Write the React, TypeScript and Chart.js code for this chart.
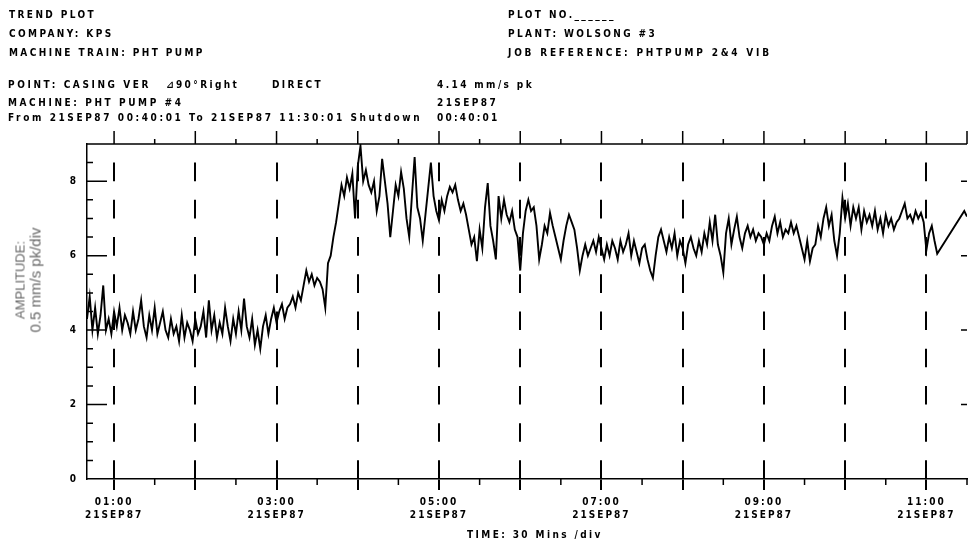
import React, { useEffect, useRef } from "react";
import { Chart, registerables } from "chart.js";

Chart.register(...registerables);

// ---- time axis (minutes after midnight) ----
const START_MIN = 40; // 00:40
const END_MIN = 690; // 11:30
const STEP_MIN = 2;
const hourGrid = [60, 120, 180, 240, 300, 360, 420, 480, 540, 600, 660];
const labelHours = [60, 180, 300, 420, 540, 660];
const timeLabels = ["01:00", "03:00", "05:00", "07:00", "09:00", "11:00"];
const dateLabel = "21SEP87";

// ---- amplitude axis (mm/s pk) ----
const Y_MIN = 0;
const Y_MAX = 9;
const yTickValues = [0, 2, 4, 6, 8];

// ---- amplitude trend, one reading every 2 minutes from 00:40 ----
const amp0040 = [4.3, 4.9, 4.0, 4.6, 3.9, 4.4, 5.2, 4.0, 4.3, 3.9, 4.5, 4.1, 4.6, 4.0, 4.4];
const amp0110 = [4.2, 3.9, 4.5, 4.0, 4.3, 4.8, 4.1, 3.8, 4.4, 4.0, 4.6, 3.9, 4.2, 4.5, 4.0];
const amp0140 = [3.8, 4.3, 3.9, 4.1, 3.7, 4.4, 3.8, 4.2, 4.0, 3.7, 4.3, 3.9, 4.1, 4.5, 3.8];
const amp0210 = [4.8, 4.0, 4.4, 3.8, 4.2, 3.9, 4.6, 4.1, 3.7, 4.3, 3.9, 4.5, 4.0, 4.85, 4.1];
const amp0240 = [3.8, 4.3, 3.6, 4.0, 3.5, 4.1, 4.4, 3.9, 4.3, 4.6, 4.2, 4.5, 4.7, 4.3, 4.6];
const amp0310 = [4.7, 4.9, 4.6, 5.0, 4.8, 5.2, 5.6, 5.3, 5.5, 5.2, 5.4, 5.3, 5.1, 4.6, 5.8];
const amp0340 = [6.0, 6.5, 6.9, 7.4, 7.9, 7.6, 8.1, 7.8, 8.2, 7.0, 8.4, 8.95, 8.0, 8.3, 7.9];
const amp0410 = [7.7, 8.0, 7.2, 7.6, 8.6, 8.0, 7.4, 6.5, 7.2, 7.9, 7.6, 8.25, 7.8, 7.0, 6.5];
const amp0440 = [7.6, 8.65, 7.3, 7.0, 6.4, 7.1, 7.8, 8.5, 7.6, 7.2, 6.95, 7.5, 7.2, 7.6, 7.85];
const amp0510 = [7.7, 7.9, 7.5, 7.2, 7.4, 7.1, 6.7, 6.3, 6.5, 5.85, 6.7, 6.2, 7.3, 7.95, 6.8];
const amp0540 = [6.4, 5.9, 7.6, 7.0, 7.5, 7.1, 6.9, 7.2, 6.7, 6.5, 5.6, 6.6, 7.2, 7.5, 7.2];
const amp0610 = [7.3, 6.8, 5.9, 6.3, 6.8, 6.6, 7.15, 6.8, 6.5, 6.2, 5.9, 6.4, 6.8, 7.1, 6.9];
const amp0640 = [6.7, 6.2, 5.6, 6.0, 6.3, 6.0, 6.2, 6.4, 6.1, 6.5, 6.2, 5.9, 6.3, 6.0, 6.4];
const amp0710 = [6.2, 5.9, 6.4, 6.1, 6.3, 6.6, 6.0, 6.4, 6.1, 5.8, 6.2, 6.3, 5.9, 5.6, 5.4];
const amp0740 = [6.0, 6.5, 6.7, 6.4, 6.1, 6.5, 6.2, 6.6, 6.0, 6.4, 6.2, 5.8, 6.3, 6.5, 6.2];
const amp0810 = [6.0, 6.4, 6.1, 6.6, 6.3, 6.9, 6.4, 7.1, 6.3, 6.0, 5.55, 6.6, 7.0, 6.3, 6.7];
const amp0840 = [7.05, 6.5, 6.2, 6.6, 6.8, 6.5, 6.7, 6.4, 6.6, 6.5, 6.3, 6.6, 6.4, 6.8, 7.05];
const amp0910 = [6.6, 6.9, 6.5, 6.7, 6.6, 6.9, 6.6, 6.8, 6.5, 6.2, 5.9, 6.4, 5.85, 6.2, 6.3];
const amp0940 = [6.8, 6.5, 7.0, 7.3, 6.8, 7.1, 6.4, 6.0, 6.6, 7.55, 7.0, 7.4, 6.8, 7.3, 7.0];
const amp1010 = [7.3, 6.7, 7.2, 6.9, 7.1, 6.8, 7.2, 6.7, 7.0, 6.6, 7.1, 6.8, 7.0, 6.7, 6.9];
const amp1040 = [7.0, 7.2, 7.4, 7.0, 7.1, 6.9, 7.2, 7.0, 7.15, 6.9, 6.15, 6.6, 6.8, 6.4, 6.05];
const amp1110 = [null, null, null, null, null, null, null, null, null, 7.2, 7.05];

const amplitude: (number | null)[] = [
  ...amp0040, ...amp0110, ...amp0140, ...amp0210, ...amp0240, ...amp0310,
  ...amp0340, ...amp0410, ...amp0440, ...amp0510, ...amp0540, ...amp0610,
  ...amp0640, ...amp0710, ...amp0740, ...amp0810, ...amp0840, ...amp0910,
  ...amp0940, ...amp1010, ...amp1040, ...amp1110,
];

const FONT = '"DejaVu Sans Condensed", "DejaVu Sans", sans-serif';

const frameTicks = {
  id: "frameTicks",
  beforeDraw(chart: any) {
    chart.ctx.letterSpacing = "2px";
  },
  afterDraw(chart: any) {
    const { ctx, chartArea: a, scales } = chart;
    const x = scales.x;
    const y = scales.y;
    ctx.save();
    ctx.letterSpacing = "0px";
    ctx.strokeStyle = "#000";
    ctx.lineWidth = 1.5;
    ctx.setLineDash([]);
    ctx.beginPath();
    ctx.moveTo(a.left, a.top);
    ctx.lineTo(a.right, a.top);
    for (let m = 60; m <= END_MIN; m += 30) {
      const px = x.getPixelForValue(m);
      const hour = m % 60 === 0;
      ctx.moveTo(px, a.top);
      ctx.lineTo(px, a.top - (hour || m === END_MIN ? 13 : 5));
      if (!hour) {
        ctx.moveTo(px, a.bottom);
        ctx.lineTo(px, a.bottom + 6);
      }
    }
    for (let v = 0.5; v < Y_MAX; v += 0.5) {
      const py = y.getPixelForValue(v);
      const major = v % 2 === 0;
      ctx.moveTo(a.left, py);
      ctx.lineTo(a.left + (major ? 20 : 6), py);
      if (major) {
        ctx.moveTo(a.right, py);
        ctx.lineTo(a.right - 6, py);
      }
    }
    ctx.stroke();
    ctx.restore();
  },
};

const hdr: React.CSSProperties = {
  position: "absolute",
  fontFamily: FONT,
  fontWeight: "bold",
  fontSize: "10px",
  lineHeight: "10px",
  letterSpacing: "2.4px",
  whiteSpace: "pre",
  color: "#000",
};

function T({ x, y, children, ls }: { x: number; y: number; children: any; ls?: number }) {
  return (
    <div style={{ ...hdr, left: x, top: y - 5, letterSpacing: ls != null ? ls + "px" : hdr.letterSpacing }}>
      {children}
    </div>
  );
}

export default function App() {
  const canvasRef = useRef<HTMLCanvasElement | null>(null);

  useEffect(() => {
    const canvas = canvasRef.current;
    if (!canvas) return;
    const points = amplitude.map((v, i) => ({ x: START_MIN + i * STEP_MIN, y: v }));
    const chart = new Chart(canvas, {
      type: "line",
      data: {
        datasets: [
          {
            data: points as any,
            borderColor: "#000",
            borderWidth: 1.9,
            pointRadius: 0,
            tension: 0,
            spanGaps: true,
          },
        ],
      },
      options: {
        responsive: false,
        maintainAspectRatio: false,
        animation: false,
        events: [],
        layout: { padding: { top: 144, left: 47, right: 3, bottom: 22 } },
        plugins: { legend: { display: false }, tooltip: { enabled: false } },
        scales: {
          x: {
            type: "linear",
            min: START_MIN,
            max: END_MIN,
            afterBuildTicks: (s: any) => {
              s.ticks = hourGrid.map((v) => ({ value: v }));
            },
            afterFit: (s: any) => {
              s.height = 40;
            },
            grid: {
              color: "#000",
              lineWidth: 2,
              drawTicks: true,
              tickLength: 11,
              tickBorderDash: [],
            },
            border: { display: true, color: "#000", width: 1.5, dash: [18.61, 18.61], dashOffset: 18.61 },
            ticks: {
              autoSkip: false,
              maxRotation: 0,
              padding: 6,
              color: "#000",
              font: { family: FONT, weight: "bold", size: 10, lineHeight: 1.3 },
              callback: (value: any) => {
                const idx = labelHours.indexOf(Number(value));
                return idx >= 0 ? [timeLabels[idx], dateLabel] : "";
              },
            },
          },
          y: {
            type: "linear",
            min: Y_MIN,
            max: Y_MAX,
            afterBuildTicks: (s: any) => {
              s.ticks = yTickValues.map((v) => ({ value: v }));
            },
            afterFit: (s: any) => {
              s.width = 40;
            },
            grid: { display: false, drawTicks: false },
            border: { display: true, color: "#000", width: 1.5 },
            ticks: {
              padding: 9,
              color: "#000",
              font: { family: FONT, weight: "bold", size: 10 },
            },
          },
        },
      },
      plugins: [frameTicks],
    } as any);
    return () => chart.destroy();
  }, []);

  return (
    <div style={{ position: "absolute", left: 0, top: 0, width: 970, height: 541, background: "#fff", overflow: "hidden" }}>
      <canvas ref={canvasRef} width={970} height={541} style={{ position: "absolute", left: 0, top: 0 }} />
      <T x={9} y={15}>TREND PLOT</T>
      <T x={9} y={34}>COMPANY: KPS</T>
      <T x={9} y={53}>MACHINE TRAIN: PHT PUMP</T>
      <T x={508} y={15}>PLOT NO.______</T>
      <T x={508} y={34}>PLANT: WOLSONG #3</T>
      <T x={508} y={53} ls={2.8}>JOB REFERENCE: PHTPUMP 2&amp;4 VIB</T>
      <T x={8} y={85} ls={2.6}>POINT: CASING VER</T>
      <T x={166} y={85}>⊿90°Right</T>
      <T x={272} y={85}>DIRECT</T>
      <T x={437} y={85}>4.14 mm/s pk</T>
      <T x={8} y={103} ls={2.6}>MACHINE: PHT PUMP #4</T>
      <T x={437} y={103}>21SEP87</T>
      <T x={8} y={118} ls={2.6}>From 21SEP87 00:40:01 To 21SEP87 11:30:01 Shutdown</T>
      <T x={437} y={118} ls={2.2}>00:40:01</T>
      <T x={467} y={535}>TIME: 30 Mins /div</T>
      <div
        style={{
          position: "absolute",
          left: 28,
          top: 280,
          transform: "translate(-50%, -50%) rotate(-90deg)",
          fontFamily: '"Liberation Sans", Arial, sans-serif',
          fontWeight: "normal",
          color: "#666",
          textAlign: "center",
          whiteSpace: "pre",
        }}
      >
        <div style={{ fontSize: "13px", lineHeight: "14px", fontWeight: "normal" }}>AMPLITUDE:</div>
        <div style={{ fontSize: "15px", lineHeight: "15px", fontWeight: "normal" }}>0.5 mm/s pk/div</div>
      </div>
    </div>
  );
}
